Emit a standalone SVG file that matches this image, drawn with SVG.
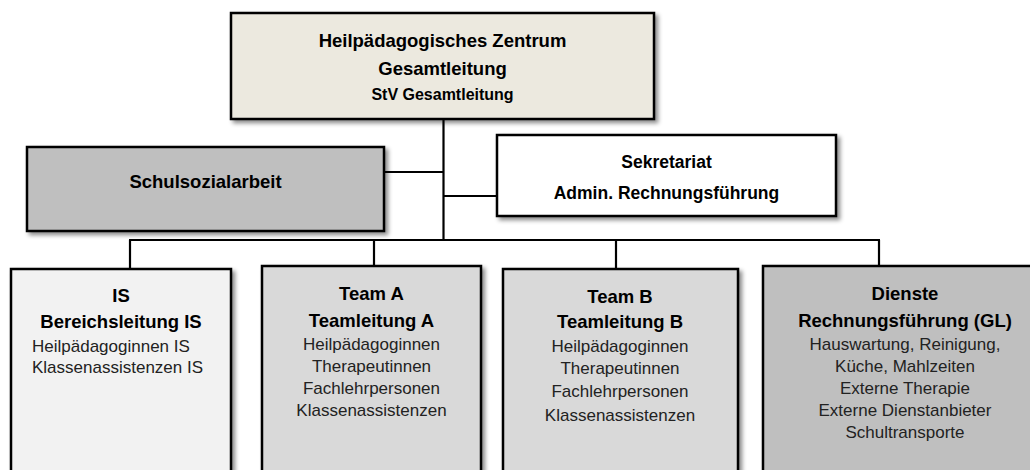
<svg xmlns="http://www.w3.org/2000/svg" width="1030" height="470" viewBox="0 0 1030 470">
<defs>
<filter id="sh" x="-10%" y="-10%" width="130%" height="130%">
<feDropShadow dx="3" dy="3" stdDeviation="2.2" flood-color="#000" flood-opacity="0.45"/>
</filter>
<style>
.box{stroke:#000;stroke-width:2.5;filter:url(#sh)}
.b{font-family:"Liberation Sans",Arial,sans-serif;font-weight:bold;fill:#000;text-anchor:middle}
.t{font-size:18.5px}
.s{font-size:16px}
.r{font-family:"Liberation Sans",Arial,sans-serif;font-size:17px;fill:#222;text-anchor:middle}
.l{text-anchor:start}
.c{stroke:#000;stroke-width:2.2;fill:none}
</style>
</defs>
<rect width="1030" height="470" fill="#fff"/>
<g id="connectors">
<line class="c" x1="443.5" y1="119" x2="443.5" y2="240"/>
<line class="c" x1="384" y1="172" x2="443.5" y2="172"/>
<line class="c" x1="443.5" y1="196" x2="497" y2="196"/>
<line class="c" x1="129" y1="240" x2="880" y2="240"/>
<line class="c" x1="130" y1="240" x2="130" y2="269"/>
<line class="c" x1="374" y1="240" x2="374" y2="266"/>
<line class="c" x1="616" y1="240" x2="616" y2="269"/>
<line class="c" x1="879" y1="240" x2="879" y2="266"/>
</g>
<g id="gesamtleitung">
<rect class="box" x="231" y="13" width="423" height="106" fill="#ece9df"/>
<text class="b t" x="442.5" y="47">Heilpädagogisches Zentrum</text>
<text class="b t" x="442.5" y="75">Gesamtleitung</text>
<text class="b s" x="442.5" y="100">StV Gesamtleitung</text>
</g>
<g id="schulsozialarbeit">
<rect class="box" x="27" y="147" width="357" height="84" fill="#bfbfbf"/>
<text class="b t" x="205.5" y="188">Schulsozialarbeit</text>
</g>
<g id="sekretariat">
<rect class="box" x="497" y="135" width="339" height="81" fill="#ffffff"/>
<text class="b" style="font-size:17.5px" x="666.5" y="168">Sekretariat</text>
<text class="b" style="font-size:17.5px" x="666.5" y="199">Admin. Rechnungsführung</text>
</g>
<g id="is">
<rect class="box" x="11" y="269" width="220" height="215" fill="#f2f2f2"/>
<text class="b t" x="121" y="302">IS</text>
<text class="b t" x="121" y="328">Bereichsleitung IS</text>
<text class="r l" x="32" y="352">Heilpädagoginnen IS</text>
<text class="r l" x="32" y="373">Klassenassistenzen IS</text>
</g>
<g id="team-a">
<rect class="box" x="262" y="266" width="219" height="218" fill="#d9d9d9"/>
<text class="b t" x="371.5" y="300">Team A</text>
<text class="b t" x="371.5" y="327">Teamleitung A</text>
<text class="r" x="371.5" y="350">Heilpädagoginnen</text>
<text class="r" x="371.5" y="372">Therapeutinnen</text>
<text class="r" x="371.5" y="394">Fachlehrpersonen</text>
<text class="r" x="371.5" y="416">Klassenassistenzen</text>
</g>
<g id="team-b">
<rect class="box" x="503" y="269" width="235" height="215" fill="#d9d9d9"/>
<text class="b t" x="620" y="303">Team B</text>
<text class="b t" x="620" y="328">Teamleitung B</text>
<text class="r" x="620" y="352">Heilpädagoginnen</text>
<text class="r" x="620" y="374">Therapeutinnen</text>
<text class="r" x="620" y="397">Fachlehrpersonen</text>
<text class="r" x="620" y="421">Klassenassistenzen</text>
</g>
<g id="dienste">
<rect class="box" x="763" y="266" width="290" height="218" fill="#bfbfbf"/>
<text class="b t" x="905" y="300">Dienste</text>
<text class="b t" x="905" y="327">Rechnungsführung (GL)</text>
<text class="r" x="905" y="350">Hauswartung, Reinigung,</text>
<text class="r" x="905" y="372">Küche, Mahlzeiten</text>
<text class="r" x="905" y="394">Externe Therapie</text>
<text class="r" x="905" y="416">Externe Dienstanbieter</text>
<text class="r" x="905" y="438">Schultransporte</text>
</g>
</svg>
